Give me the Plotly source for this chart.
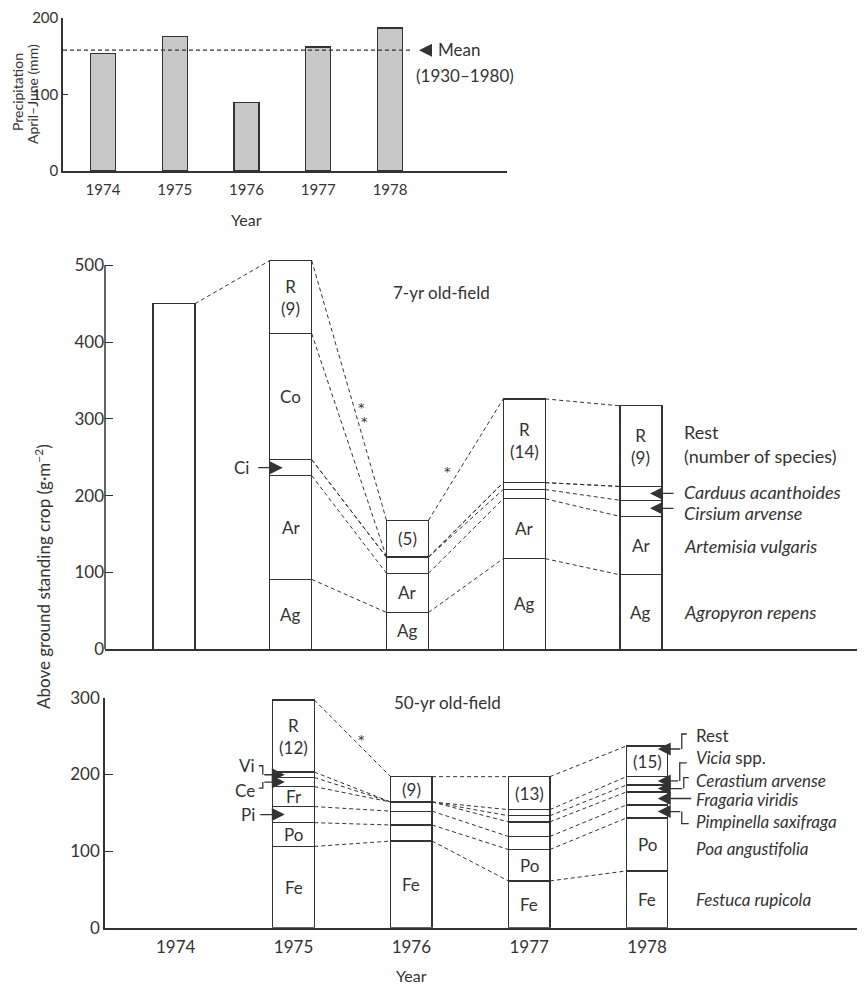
import plotly.graph_objects as go

# the page body adds an 8 px margin, so the figure is drawn 8 px smaller
OFF = 8
WF, HF = 865 - OFF, 986 - OFF
INK = "#333333"
FONT = "Lato, 'Open Sans', sans-serif"

# ---------------- data ----------------
tick_years = [1974, 1975, 1976, 1977, 1978]

precip_years = [1974, 1975, 1976, 1977, 1978]
precip_mm = [154, 176, 90, 162, 187]
precip_mean_mm = 158

# 7-yr old-field (g m-2), stacked bottom -> top
f7_total_1974 = 450
f7_years = [1975, 1976, 1977, 1978]
f7_Ag = [91, 48, 118, 97]
f7_Ar = [135, 51, 78, 76]
f7_Ci = [21, 21, 12, 21]
f7_Ca = [0, 0, 9, 18]
f7_Co = [164, 0, 0, 0]
f7_R = [95, 48, 109, 105]
f7_Ag_text = ["Ag", "Ag", "Ag", "Ag"]
f7_Ar_text = ["Ar", "Ar", "Ar", "Ar"]
f7_Ci_text = ["", "", "", ""]
f7_Ca_text = ["", "", "", ""]
f7_Co_text = ["Co", "", "", ""]
f7_R_text = ["R<br>(9)", "(5)", "R<br>(14)", "R<br>(9)"]

# 50-yr old-field (g m-2), stacked bottom -> top
f50_years = [1975, 1976, 1977, 1978]
f50_Fe = [106, 113, 61, 74]
f50_Po = [31, 21, 41, 69]
f50_Pi = [21, 18, 17, 17]
f50_Fr = [26, 12, 19, 17]
f50_Ce = [12, 0, 8, 9]
f50_Vi = [7, 0, 8, 11]
f50_R = [94, 33, 43, 40]
f50_Fe_text = ["Fe", "Fe", "Fe", "Fe"]
f50_Po_text = ["Po", "", "Po", "Po"]
f50_Pi_text = ["", "", "", ""]
f50_Fr_text = ["Fr", "", "", ""]
f50_Ce_text = ["", "", "", ""]
f50_Vi_text = ["", "", "", ""]
f50_R_text = ["R<br>(12)", "(9)", "(13)", "(15)"]


# ---------------- layout helpers ----------------
def px2x(px):
    return (px - OFF) / WF


def py(px):
    return 1 - (px - OFF) / HF


W1, W2, W3 = 0.348, 0.36, 0.352
X1_RANGE = [1973.4425, 1979.63]
X2_RANGE = [1973.409, 1979.919]
X3_RANGE = [1973.40, 1979.85]
BAR_LINE = 1.3
LAB = 17      # in-bar labels
LEG = 18      # legend labels (7-yr panel)
LEG50 = 17    # legend labels (50-yr panel)

fig = go.Figure()

# ---------------- top panel ----------------
fig.add_trace(go.Bar(x=precip_years, y=precip_mm, width=W1,
                     marker=dict(color="#c8c8c8", line=dict(color=INK, width=BAR_LINE)),
                     xaxis="x", yaxis="y", showlegend=False, hoverinfo="skip"))
fig.add_trace(go.Scatter(x=[X1_RANGE[0], precip_years[-1] + W1 / 2 + 0.14],
                         y=[precip_mean_mm, precip_mean_mm], mode="lines",
                         line=dict(color=INK, width=1.1, dash="4px,3px"),
                         xaxis="x", yaxis="y", showlegend=False, hoverinfo="skip"))


def cumulative(layers):
    out = []
    for j in range(len(layers[0])):
        s, c = 0, []
        for lay in layers:
            s += lay[j]
            c.append(s)
        out.append(c)
    return out


def add_stack(years, layers, texts, w, xa, ya):
    cum = cumulative(layers)
    for lay in layers:
        fig.add_trace(go.Bar(x=years, y=[v if v else None for v in lay], width=w,
                             marker=dict(color="white", line=dict(color=INK, width=BAR_LINE)),
                             xaxis=xa, yaxis=ya, showlegend=False, hoverinfo="skip"))
    for k, txt in enumerate(texts):
        for j, yr in enumerate(years):
            if txt[j]:
                m = cum[j][k] - layers[k][j] / 2
                fig.add_annotation(x=yr, y=m, xref=xa, yref=ya, text=txt[j],
                                   showarrow=False, font=dict(size=LAB, color=INK))
    xs, ys = [], []
    for j in range(len(years) - 1):
        for k in range(len(layers)):
            xs += [years[j] + w / 2, years[j + 1] - w / 2, None]
            ys += [cum[j][k], cum[j + 1][k], None]
    fig.add_trace(go.Scatter(x=xs, y=ys, mode="lines",
                             line=dict(color=INK, width=1, dash="4px,3px"),
                             xaxis=xa, yaxis=ya, showlegend=False, hoverinfo="skip"))
    return cum


# ---------------- middle panel ----------------
f7_layers = [f7_Ag, f7_Ar, f7_Ci, f7_Ca, f7_Co, f7_R]
f7_texts = [f7_Ag_text, f7_Ar_text, f7_Ci_text, f7_Ca_text, f7_Co_text, f7_R_text]
fig.add_trace(go.Bar(x=[1974], y=[f7_total_1974], width=W2,
                     marker=dict(color="white", line=dict(color=INK, width=BAR_LINE)),
                     xaxis="x2", yaxis="y2", showlegend=False, hoverinfo="skip"))
c7 = add_stack(f7_years, f7_layers, f7_texts, W2, "x2", "y2")
fig.add_trace(go.Scatter(x=[1974 + W2 / 2, f7_years[0] - W2 / 2],
                         y=[f7_total_1974, c7[0][-1]], mode="lines",
                         line=dict(color=INK, width=1, dash="4px,3px"),
                         xaxis="x2", yaxis="y2", showlegend=False, hoverinfo="skip"))

# ---------------- bottom panel ----------------
f50_layers = [f50_Fe, f50_Po, f50_Pi, f50_Fr, f50_Ce, f50_Vi, f50_R]
f50_texts = [f50_Fe_text, f50_Po_text, f50_Pi_text, f50_Fr_text, f50_Ce_text,
             f50_Vi_text, f50_R_text]
c50 = add_stack(f50_years, f50_layers, f50_texts, W3, "x3", "y3")


def mid(cum, layers, j, k):
    return cum[j][k] - layers[k][j] / 2


def arrow(x, y, xref, yref, xshift, ax, yshift=0):
    fig.add_annotation(x=x, y=y, xref=xref, yref=yref, xshift=xshift, yshift=yshift,
                       ax=ax, ay=0, text="", showarrow=True, arrowhead=2,
                       arrowsize=2.0, arrowwidth=1.3, arrowcolor=INK,
                       standoff=0, startstandoff=0)


def bracket(xa, ya, xanchor, yanchor, path):
    fig.add_shape(type="path", xref=xa, yref=ya, xsizemode="pixel", ysizemode="pixel",
                  xanchor=xanchor, yanchor=yanchor, path=path,
                  line=dict(color=INK, width=1.3))


def label(x, y, xref, yref, text, xshift, yshift=0, anchor="left", size=LEG, family=FONT):
    fig.add_annotation(x=x, y=y, xref=xref, yref=yref, text=text, showarrow=False,
                       xshift=xshift, yshift=yshift, xanchor=anchor, yanchor="middle",
                       font=dict(size=size, color=INK, family=family))


# middle: legend on the right of 1978
j = 3
R7 = f7_years[j] + W2 / 2
label(R7, mid(c7, f7_layers, j, 5), "x2", "y2", "Rest", 20, 14)
label(R7, mid(c7, f7_layers, j, 5), "x2", "y2", "(number of species)", 20, -10)
arrow(R7, mid(c7, f7_layers, j, 3), "x2", "y2", -12, 25)
label(R7, mid(c7, f7_layers, j, 3), "x2", "y2", "<i>Carduus acanthoides</i>", 20, 1)
arrow(R7, mid(c7, f7_layers, j, 2), "x2", "y2", -12, 25)
label(R7, mid(c7, f7_layers, j, 2), "x2", "y2", "<i>Cirsium arvense</i>", 20, -5)
label(R7, mid(c7, f7_layers, j, 1), "x2", "y2", "<i>Artemisia vulgaris</i>", 20, 0)
label(R7, mid(c7, f7_layers, j, 0), "x2", "y2", "<i>Agropyron repens</i>", 20, 0)
# middle: Ci arrow on 1975
L7 = f7_years[0] - W2 / 2
arrow(L7, mid(c7, f7_layers, 0, 2), "x2", "y2", 13, -26)
label(L7, mid(c7, f7_layers, 0, 2), "x2", "y2", "Ci", -19, 0, "right", LAB)

# bottom: legend on the right of 1978
R50 = f50_years[j] + W3 / 2
top78 = c50[j][-1]
arrow(R50, top78, "x3", "y3", -10, 24, -3)
bracket("x3", "y3", R50, top78, "M 14,-3 L 14,12 L 19,12")
label(R50, top78, "x3", "y3", "Rest", 26, 11, size=LEG50)
vm = mid(c50, f50_layers, j, 5)
arrow(R50, vm, "x3", "y3", -10, 22)
bracket("x3", "y3", R50, vm, "M 12,0 L 12,18 L 19,18")
label(R50, vm, "x3", "y3", "<i>Vicia</i> spp.", 26, 23, size=LEG50)
cm = mid(c50, f50_layers, j, 4)
arrow(R50, cm, "x3", "y3", -10, 26)
bracket("x3", "y3", R50, cm, "M 16,0 L 16,11 L 21,11")
label(R50, cm, "x3", "y3", "<i>Cerastium arvense</i>", 26, 8, size=LEG50)
fm = mid(c50, f50_layers, j, 3)
arrow(R50, fm, "x3", "y3", -10, 35)
label(R50, fm, "x3", "y3", "<i>Fragaria viridis</i>", 26, -1, size=LEG50)
pm = mid(c50, f50_layers, j, 2)
arrow(R50, pm, "x3", "y3", -10, 24)
bracket("x3", "y3", R50, pm, "M 14,0 L 14,-12 L 21,-12")
label(R50, pm, "x3", "y3", "<i>Pimpinella saxifraga</i>", 26, -10, size=LEG50)
label(R50, mid(c50, f50_layers, j, 1), "x3", "y3", "<i>Poa angustifolia</i>", 26, -4,
      size=LEG50)
label(R50, mid(c50, f50_layers, j, 0), "x3", "y3", "<i>Festuca rupicola</i>", 26, 0,
      size=LEG50)

# bottom: Vi / Ce / Pi arrows on 1975
L50 = f50_years[0] - W3 / 2
v5 = mid(c50, f50_layers, 0, 5)
arrow(L50, v5, "x3", "y3", 12, -22)
bracket("x3", "y3", L50, v5, "M -10,0 L -10,9 L -14,9")
label(L50, v5, "x3", "y3", "Vi", -16, 9, "right", LAB)
c5 = mid(c50, f50_layers, 0, 4)
arrow(L50, c5, "x3", "y3", 12, -22)
bracket("x3", "y3", L50, c5, "M -10,0 L -10,-6 L -14,-6")
label(L50, c5, "x3", "y3", "Ce", -16, -8, "right", LAB)
p5 = mid(c50, f50_layers, 0, 2)
arrow(L50, p5, "x3", "y3", 12, -26)
label(L50, p5, "x3", "y3", "Pi", -16, 0, "right", LAB)

# panel titles and significance marks
label(1976.295, 465, "x2", "y2", "7-yr old-field", 0, 0, "center", LAB)
label(1976.31, 294, "x3", "y3", "50-yr old-field", 0, 0, "center", LAB)
STAR = "DejaVu Sans"
label(1975.61, 319, "x2", "y2", "*", 0, -3, "center", 13, STAR)
label(1975.63, 300, "x2", "y2", "*", 0, -3, "center", 13, STAR)
label(1976.347, 235, "x2", "y2", "*", 0, -3, "center", 13, STAR)
label(1975.581, 249, "x3", "y3", "*", 0, -3, "center", 13, STAR)

# top panel: mean annotation
arrow(precip_years[-1] + W1 / 2 + 0.23, precip_mean_mm, "x", "y", 0, 14)
label(precip_years[-1] + W1 / 2 + 0.47, precip_mean_mm, "x", "y", "Mean", 0, 1, size=LAB)
label(precip_years[-1] + W1 / 2 + 0.16, precip_mean_mm, "x", "y", "(1930–1980)", 0, -25,
      size=LAB)

# axis titles
fig.add_annotation(x=px2x(18), y=py(92), xref="paper", yref="paper", textangle=-90,
                   xanchor="center", yanchor="middle", text="Precipitation",
                   showarrow=False, font=dict(size=14, color=INK))
fig.add_annotation(x=px2x(32), y=py(94), xref="paper", yref="paper", textangle=-90,
                   xanchor="center", yanchor="middle", text="April–June (mm)",
                   showarrow=False, font=dict(size=14, color=INK))
fig.add_annotation(x=px2x(42), y=py(577), xref="paper", yref="paper", textangle=-90,
                   xanchor="center", yanchor="middle",
                   text="Above ground standing crop (g·m<sup>−2</sup>)", showarrow=False,
                   font=dict(size=17, color=INK))
fig.add_annotation(x=1976, y=py(220), xref="x", yref="paper", text="Year",
                   xanchor="center", yanchor="middle",
                   showarrow=False, font=dict(size=16, color=INK))
fig.add_annotation(x=1976, y=py(975), xref="x3", yref="paper", text="Year",
                   xanchor="center", yanchor="middle",
                   showarrow=False, font=dict(size=16, color=INK))

# middle y-axis line only up to 500
fig.add_shape(type="line", xref="x2 domain", yref="y2", x0=0, x1=0, y0=0, y1=500,
              line=dict(color=INK, width=1.5))

axis_common = dict(showgrid=False, zeroline=False, linecolor=INK, linewidth=1.5,
                   tickcolor=INK, fixedrange=True, automargin=False,
                   ticklabeloverflow="allow")
tf_top = dict(size=15, color=INK, family=FONT)
tf_main = dict(size=17, color=INK, family=FONT)

fig.update_layout(
    width=WF, height=HF, margin=dict(l=0, r=0, t=0, b=0, pad=0, autoexpand=False),
    autosize=False,
    paper_bgcolor="white", plot_bgcolor="white", barmode="stack",
    font=dict(family=FONT, color=INK),
    xaxis=dict(domain=[px2x(63), px2x(507)], range=X1_RANGE, anchor="y", showline=True,
               tickvals=tick_years, ticks="", tickfont=tf_top, ticklabelstandoff=4,
               **axis_common),
    yaxis=dict(domain=[py(171), py(18)], range=[0, 200], anchor="x", showline=True,
               tickvals=[0, 100, 200], ticks="inside", ticklen=5, tickfont=tf_top,
               **axis_common),
    xaxis2=dict(domain=[px2x(105), 1], range=X2_RANGE, anchor="y2", showline=True,
                showticklabels=False, ticks="", tickfont=tf_main, **axis_common),
    yaxis2=dict(domain=[py(649.3), py(249.9)], range=[0, 520], anchor="x2",
                showline=False, tickvals=[0, 100, 200, 300, 400, 500], ticks="inside",
                ticklen=8, tickfont=tf_main, **axis_common),
    xaxis3=dict(domain=[px2x(105), 1], range=X3_RANGE, anchor="y3", showline=True,
                tickvals=tick_years, ticks="", tickfont=tf_main, ticklabelstandoff=3,
                **axis_common),
    yaxis3=dict(domain=[py(927.7), py(697.7)], range=[0, 300], anchor="x3",
                showline=True, tickvals=[0, 100, 200, 300], ticks="inside", ticklen=8,
                tickfont=tf_main, **axis_common),
)

fig.write_html("out.html")
